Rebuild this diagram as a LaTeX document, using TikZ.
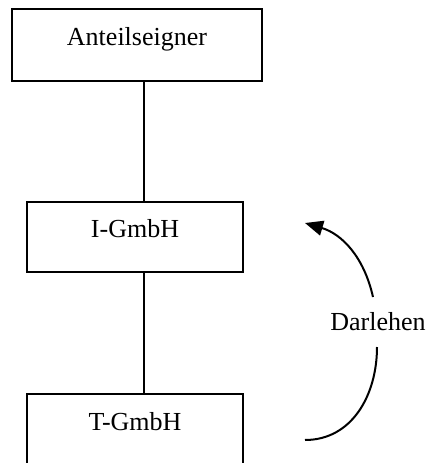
\documentclass[tikz,border=0pt]{standalone}
\usepackage{fontspec}
\setmainfont{Liberation Serif}
\usetikzlibrary{arrows.meta}
\begin{document}
\begin{tikzpicture}[x=1pt,y=-1pt,
  box/.style={draw, line width=2.6pt, rectangle, inner sep=0pt,
    text height=20pt, text depth=20pt,
    font=\fontsize{26}{30}\selectfont},
  conn/.style={line width=2pt},
  lbl/.style={font=\fontsize{26}{30}\selectfont, inner sep=0pt}]
\clip (0,0) rectangle (428,463);
\useasboundingbox (0,0) rectangle (428,463);
\fill[white] (0,0) rectangle (428,463);
\node[box, minimum width=250pt, minimum height=72pt] (ae) at (137,45) {Anteilseigner};
\node[box, minimum width=216pt, minimum height=70pt] (ig) at (135,237) {I-GmbH};
\node[box, minimum width=216pt, minimum height=72pt] (tg) at (135,430) {T-GmbH};
\coordinate (cx) at (144,0);
\draw[conn] (ae.south -| cx) -- (ig.north -| cx);
\draw[conn] (ig.south -| cx) -- (tg.north -| cx);
\node[lbl, anchor=base] (dl) at (378,330) {Darlehen};
\coordinate (a) at (305,440);
\coordinate (lo) at (377,347);
\coordinate (up) at (373,297);
\coordinate (tip) at (305,223);
\draw[conn] (a) .. controls (352,440) and (377,395) .. (lo);
\draw[conn, -{Triangle[length=18pt,width=15pt]}] (up) .. controls (364,257) and (342,234) .. (tip);
\end{tikzpicture}
\end{document}
